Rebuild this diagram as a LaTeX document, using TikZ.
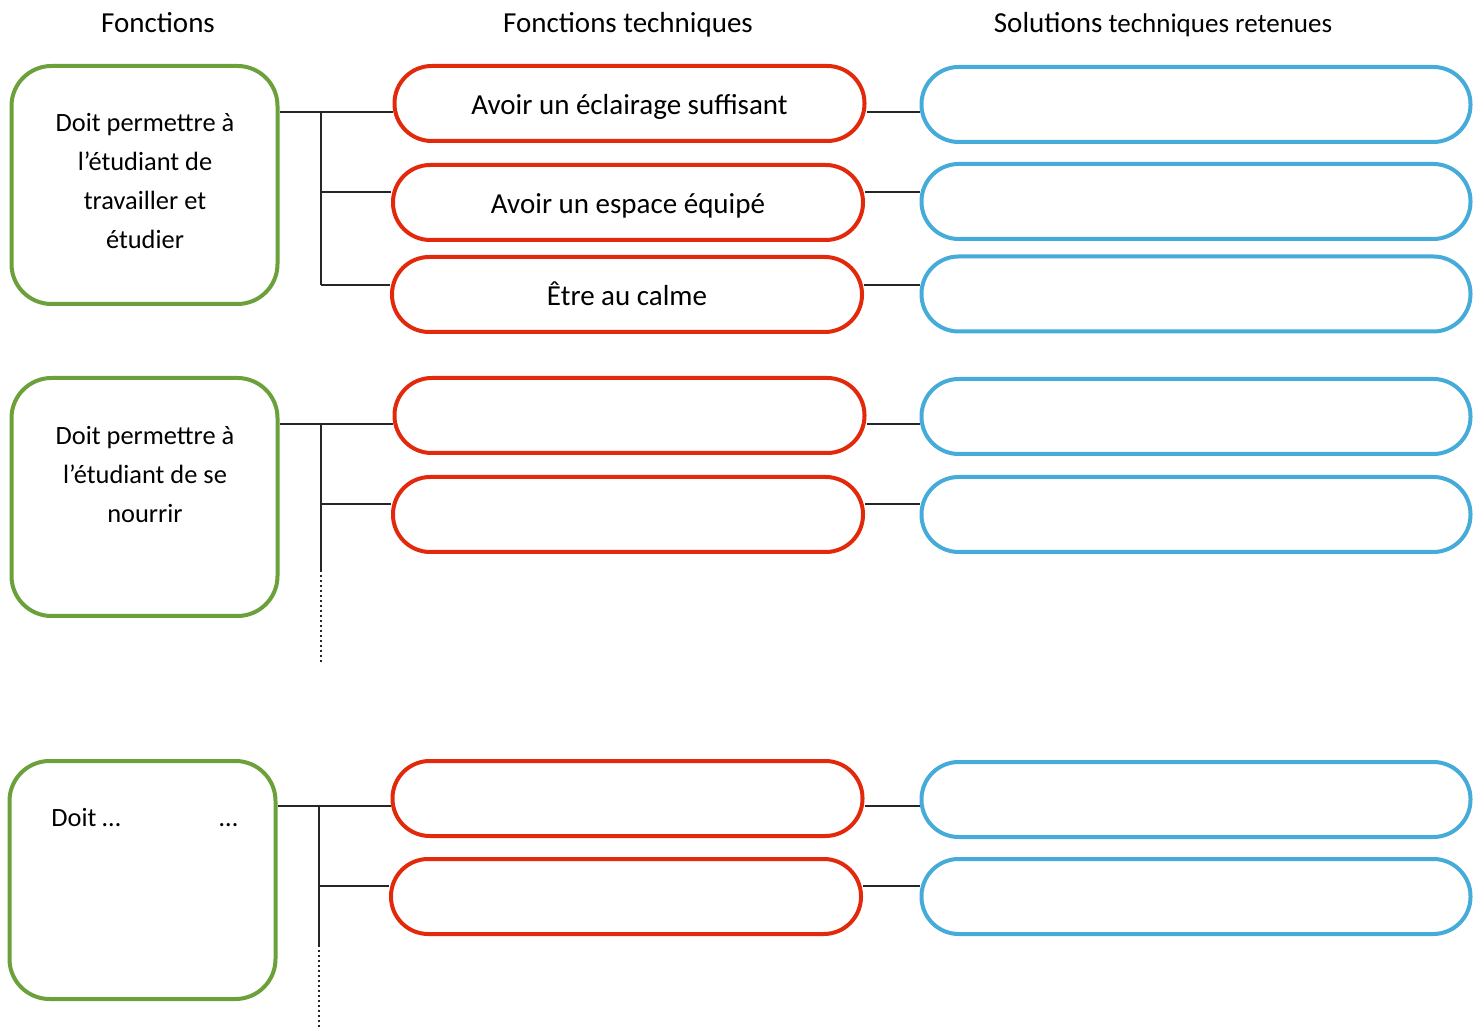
\documentclass[tikz,border=0pt]{standalone}
\usepackage{fontspec}
\setmainfont{Carlito}
\definecolor{fgreen}{HTML}{6BA03A}
\definecolor{fred}{HTML}{E2290C}
\definecolor{fblue}{HTML}{45ABD9}
\definecolor{linkc}{HTML}{262626}
\begin{document}
\begin{tikzpicture}[x=0.5pt,y=-0.5pt,
  fbox/.style={draw=fgreen, line width=2pt, rounded corners=20pt, minimum width=133pt, minimum height=119pt, inner sep=0pt},
  ftech/.style={draw=fred, line width=2pt, rounded corners=18.6pt, minimum width=235pt, minimum height=37.5pt, inner sep=0pt, font=\fontsize{14.5}{17}\selectfont, text height=12pt, text depth=0.5pt},
  sol/.style={draw=fblue, line width=2pt, rounded corners=18.6pt, minimum width=274.5pt, minimum height=37.5pt, inner sep=0pt},
  ftext/.style={align=center, font=\fontsize{13.2}{19.5}\selectfont, inner sep=0pt},
  head/.style={anchor=base, inner sep=0pt, font=\fontsize{14.5}{17}\selectfont},
  link/.style={draw=linkc, line width=1.05pt},
  trail/.style={draw=linkc, line width=1.3pt, dash pattern=on 1.2pt off 1.3pt}]
\useasboundingbox (0,0) rectangle (1473,1031);

% headers
\node[head] (h1) at (158,33) {Fonctions};
\node[head] (h2) at (628,33) {Fonctions techniques};
\node[head] (h3) at (1163,33) {Solutions{\fontsize{13.5}{17}\selectfont{} techniques retenues}};

% function boxes
\node[fbox] (g1) at (144.5,185) {};
\node[fbox] (g2) at (144.5,497) {};
\node[fbox] (g3) at (142.5,880) {};
\node[ftext] (t1) at (145,181) {Doit permettre à\\l’étudiant de\\travailler et\\étudier};
\node[ftext] (t2) at (145,475) {Doit permettre à\\l’étudiant de se\\nourrir};
\node[ftext, anchor=base west] (t3a) at (51,826) {Doit …};
\node[ftext, anchor=base west] (t3b) at (219,826) {…};

% technical functions
\node[ftech] (r1) at (629.5,103.5) {Avoir un éclairage suffisant};
\node[ftech] (r2) at (628,202.5) {Avoir un espace équipé};
\node[ftech] (r3) at (627,294.5) {Être au calme};
\node[ftech] (r4) at (629.5,415.5) {};
\node[ftech] (r5) at (628,514.5) {};
\node[ftech] (r6) at (627.5,798.5) {};
\node[ftech] (r7) at (626,896.5) {};

% solutions
\node[sol] (b1) at (1196,104.5) {};
\node[sol] (b2) at (1196,201.5) {};
\node[sol] (b3) at (1196,294) {};
\node[sol] (b4) at (1196,416.5) {};
\node[sol] (b5) at (1196,514.5) {};
\node[sol] (b6) at (1196,799.5) {};
\node[sol] (b7) at (1196,896.5) {};

% junction coordinates
\coordinate (j1) at (321,112);
\coordinate (j2) at (321,192);
\coordinate (j3) at (321,285);
\coordinate (j4) at (321,424);
\coordinate (j5) at (321,504);
\coordinate (j5e) at (321,570);
\coordinate (j5d) at (321,663);
\coordinate (j6) at (319,806);
\coordinate (j7) at (319,886);
\coordinate (j7e) at (319,945);
\coordinate (j7d) at (319,1028);

% group 1
\draw[link] (g1.east |- j1) -- (r1.west |- j1);
\draw[link] (j1) -- (j3);
\draw[link] (j2) -- (r2.west |- j2);
\draw[link] (j3) -- (r3.west |- j3);
\draw[link] (r1.east |- j1) -- (b1.west |- j1);
\draw[link] (r2.east |- j2) -- (b2.west |- j2);
\draw[link] (r3.east |- j3) -- (b3.west |- j3);

% group 2
\draw[link] (g2.east |- j4) -- (r4.west |- j4);
\draw[link] (j4) -- (j5e);
\draw[trail] (j5e) -- (j5d);
\draw[link] (j5) -- (r5.west |- j5);
\draw[link] (r4.east |- j4) -- (b4.west |- j4);
\draw[link] (r5.east |- j5) -- (b5.west |- j5);

% group 3
\draw[link] (g3.east |- j6) -- (r6.west |- j6);
\draw[link] (j6) -- (j7e);
\draw[trail] (j7e) -- (j7d);
\draw[link] (j7) -- (r7.west |- j7);
\draw[link] (r6.east |- j6) -- (b6.west |- j6);
\draw[link] (r7.east |- j7) -- (b7.west |- j7);
\end{tikzpicture}
\end{document}
